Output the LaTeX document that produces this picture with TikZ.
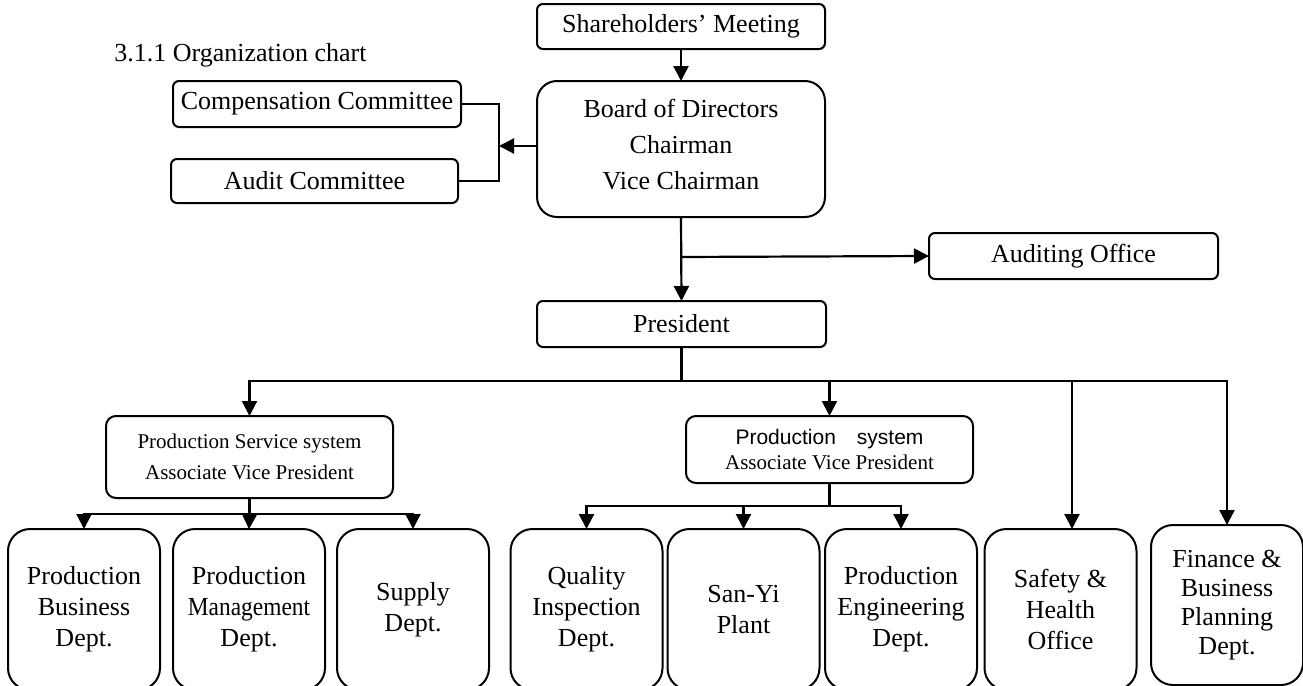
\documentclass[tikz,border=0pt]{standalone}
\usepackage{fontspec}
\usepackage{graphicx}
\setmainfont{Liberation Serif}
\newfontfamily\arialfont{Liberation Sans}
\usetikzlibrary{arrows.meta}
\tikzset{
  box/.style={draw, line width=1pt, rounded corners=3pt, inner sep=0pt, outer sep=0pt, align=center,
    font=\fontsize{13}{15.5}\selectfont},
  bigbox/.style={box, rounded corners=11pt, minimum width=76pt, minimum height=80.5pt},
  midbox/.style={box, rounded corners=5pt, minimum width=143.5pt, font=\fontsize{10.5}{15.5}\selectfont},
  wire/.style={line width=1.1pt},
  arr/.style={line width=1.1pt, -{Triangle[length=7.5pt,width=7.5pt]}},
}
\begin{document}
\begin{tikzpicture}[x=0.5pt,y=-0.5pt]
\useasboundingbox (0,0) rectangle (1303,686);

% heading
\node[anchor=west, inner sep=0pt, font=\fontsize{13}{15.5}\selectfont] (head) at (114,55) {3.1.1 Organization chart};

% top boxes
\node[box, minimum width=144pt, minimum height=22.5pt] (sh) at (681,26.5) {Shareholders’ Meeting};
\node[box, rounded corners=10pt, minimum width=144pt, minimum height=68pt,
      font=\fontsize{13}{18}\selectfont] (board) at (681,149) {\raisebox{1.5pt}[\height][\depth]{\begin{tabular}{@{}c@{}}Board of Directors\\ Chairman\\ Vice Chairman\end{tabular}}};
\node[box, minimum width=144pt, minimum height=23pt] (comp) at (317,104) {Compensation Committee};
\node[box, minimum width=143.5pt, minimum height=22pt] (audit) at (314.5,181) {Audit Committee};
\node[box, minimum width=144.5pt, minimum height=23pt] (aoff) at (1073.5,256) {Auditing Office};
\node[box, minimum width=144.5pt, minimum height=23pt] (pres) at (681.5,324) {President};

% middle boxes
\node[midbox, minimum height=41pt] (ps) at (249.5,457) {Production Service system\\Associate Vice President};
\node[midbox, minimum height=33.5pt, font=\fontsize{10.5}{12.5}\selectfont] (pr) at (829.5,449.5) {{\arialfont Production\quad system}\\Associate Vice President};

% bottom boxes
\node[bigbox] (b1) at (84,609.5) {Production\\Business\\Dept.};
\node[bigbox] (b2) at (249,609.5) {Production\\\scalebox{0.9}[1]{Management}\\Dept.};
\node[bigbox] (b3) at (413,609.5) {Supply\\Dept.};
\node[bigbox] (q) at (586.5,609.5) {Quality\\Inspection\\Dept.};
\node[bigbox] (sy) at (743.5,609.5) {San-Yi\\Plant};
\node[bigbox] (pe) at (901,609.5) {Production\\Engineering\\Dept.};
\node[bigbox] (sf) at (1060.5,609.5) {Safety \&\\Health\\Office};
\node[bigbox, minimum height=80pt, font=\fontsize{13}{14.5}\selectfont] (fin) at (1227,605) {Finance \&\\Business\\Planning\\Dept.};

% connectors top
\draw[arr] (sh.south) -- (board.north);
\coordinate (bk) at (499,146);
\draw[wire] (comp.east) -| (bk) |- (audit.east);
\draw[arr] (board.west |- bk) -- (bk);
\coordinate (ab) at (681,257);
\draw[arr] (board.south) -- (pres.north);
\draw[arr] (ab) -- (aoff.west);

% president branch
\coordinate (hb) at (681.5,381);
\draw[wire] (pres.south) -- (hb);
\draw[arr] (hb) -| (ps.north);
\draw[arr] (hb) -| (pr.north);
\coordinate (sfin) at (1072,529);
\draw[arr] (hb) -| (sfin);
\draw[arr] (hb) -| (fin.north);

% production service branch
\coordinate (psb) at (249.5,514);
\draw[wire] (ps.south) -- (psb);
\draw[arr] (psb) -| (b1.north);
\draw[arr] (psb) -- (b2.north);
\draw[arr] (psb) -| (b3.north);

% production branch
\coordinate (prb) at (829.5,506);
\draw[wire] (pr.south) -- (prb);
\draw[arr] (prb) -| (q.north);
\draw[arr] (prb) -| (sy.north);
\draw[arr] (prb) -| (pe.north);
\end{tikzpicture}
\end{document}
